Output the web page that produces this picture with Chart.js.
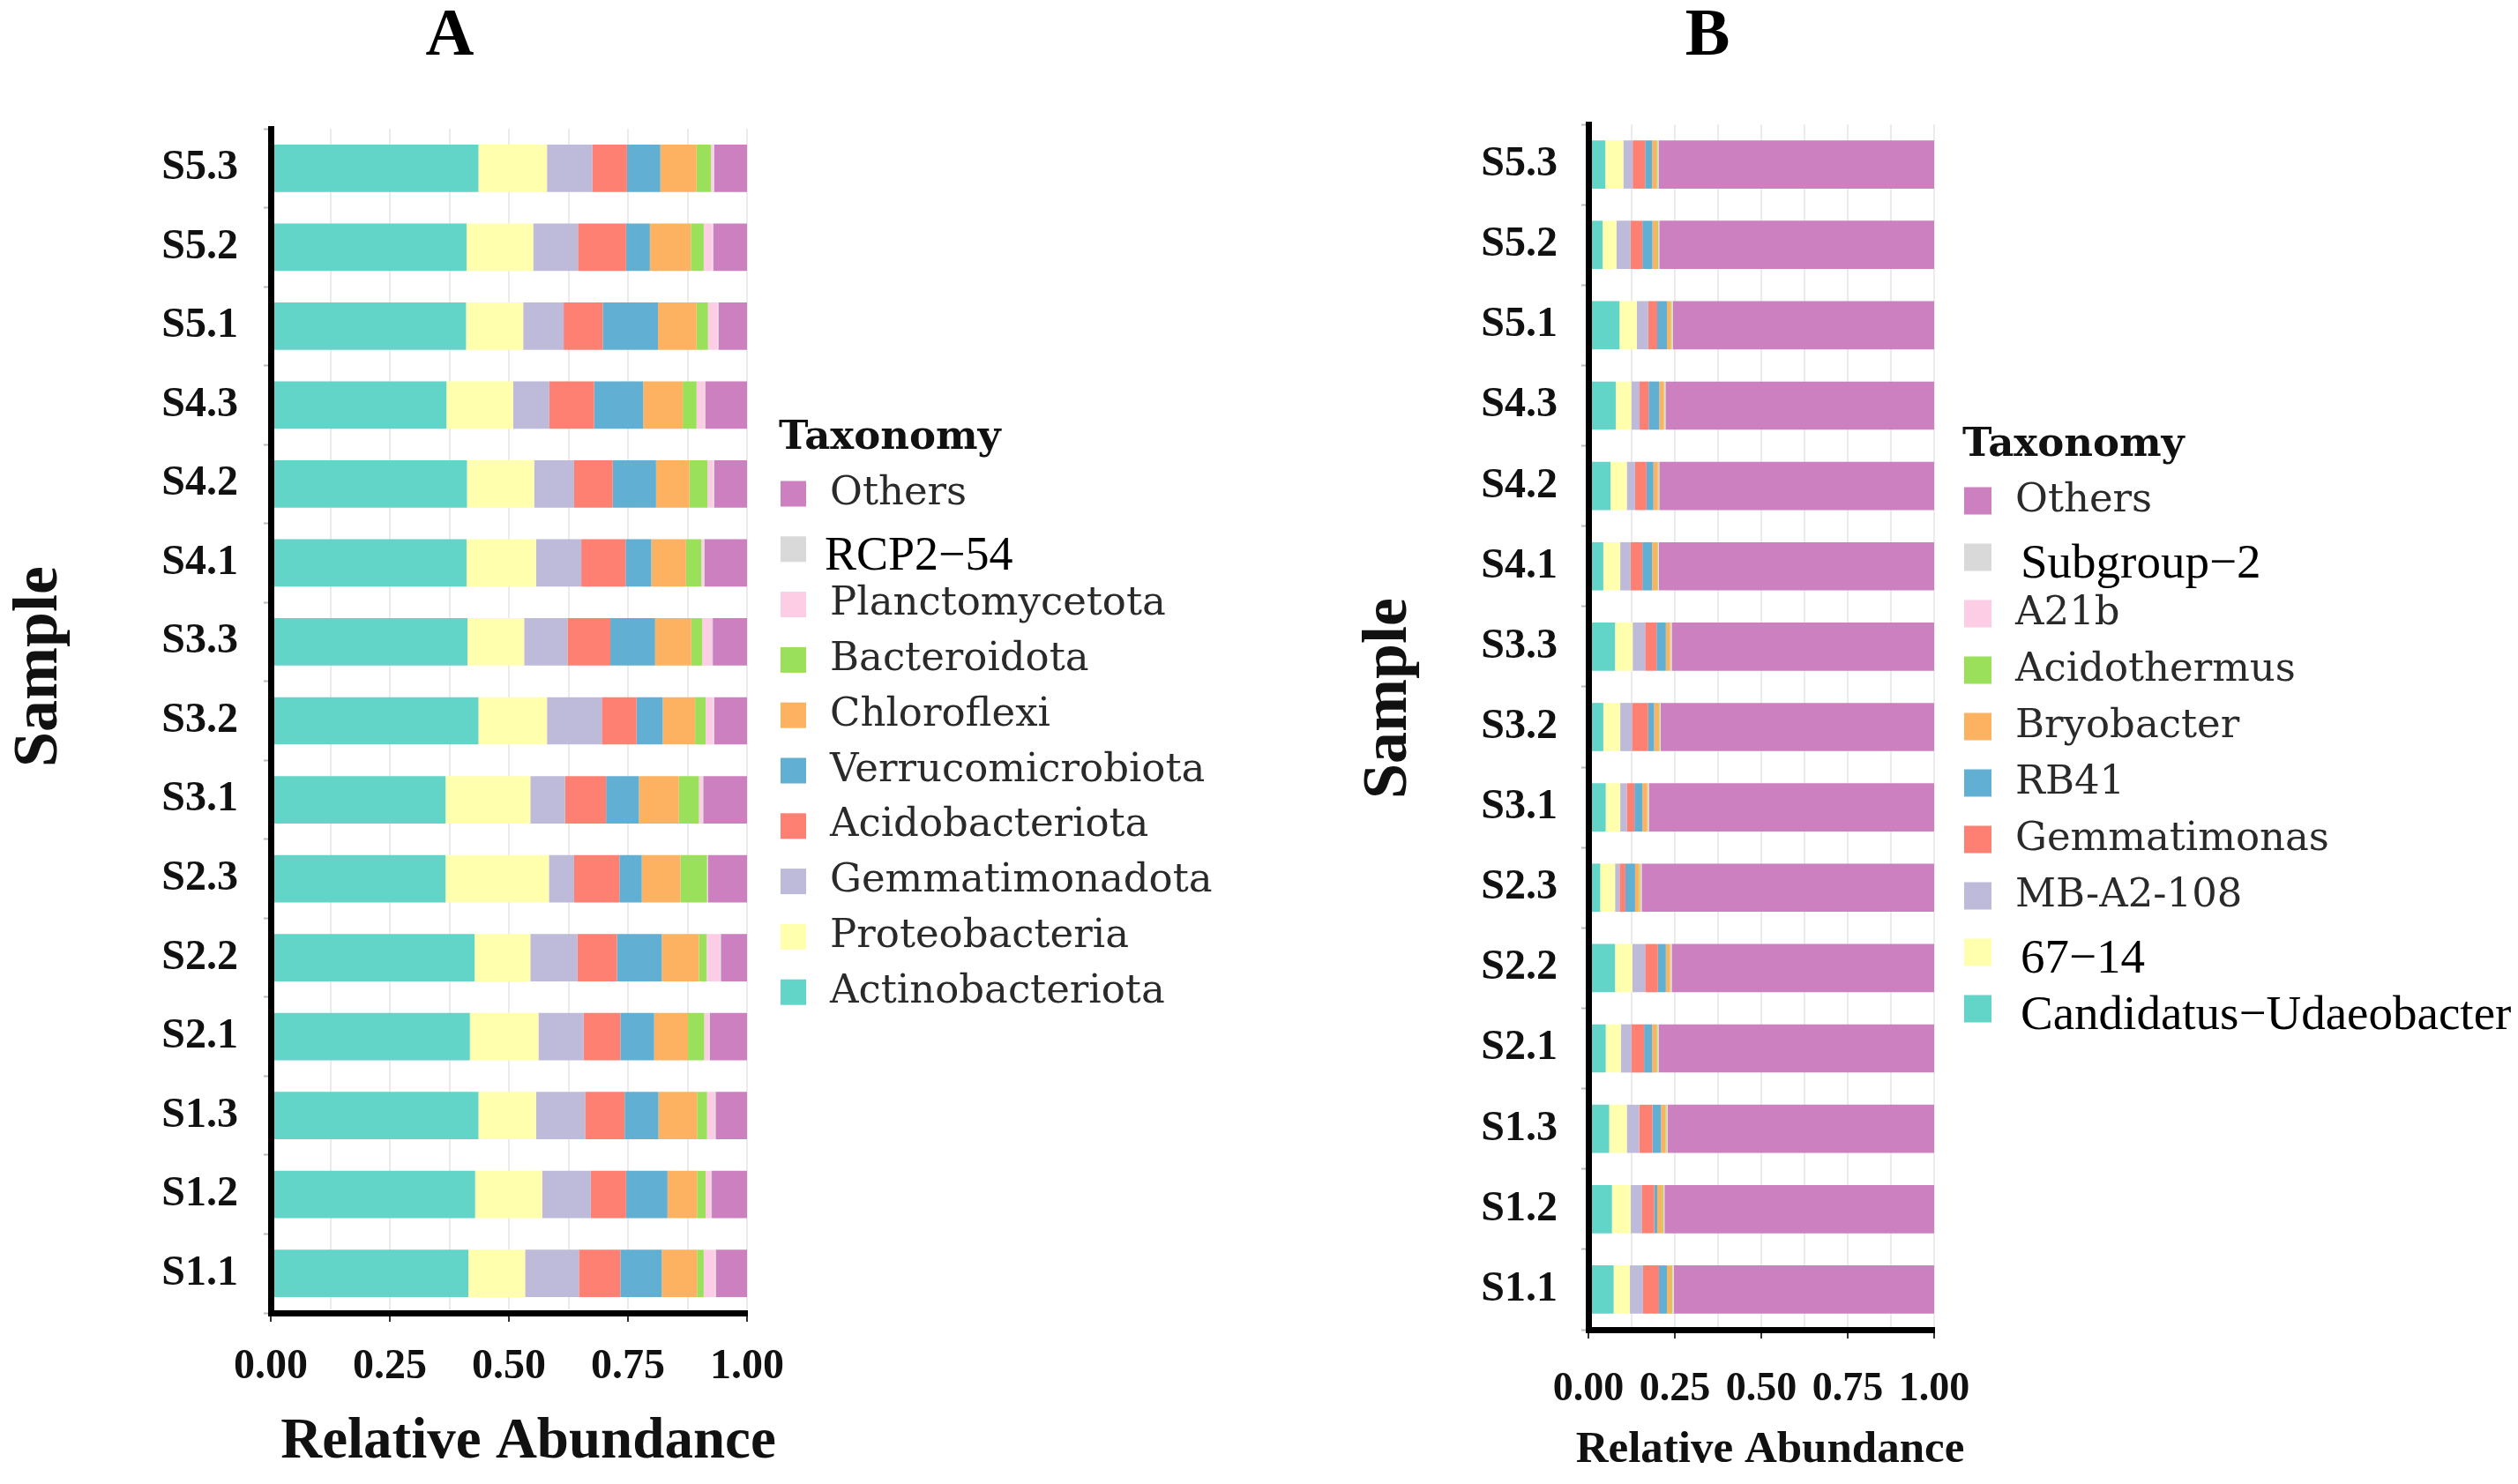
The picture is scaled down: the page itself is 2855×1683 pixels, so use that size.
<!DOCTYPE html>
<html><head><meta charset="utf-8">
<script src="https://cdn.jsdelivr.net/npm/chart.js@4.4.1/dist/chart.umd.min.js"></script>
<style>
html,body{margin:0;padding:0;background:#fff;width:2855px;height:1683px;overflow:hidden}
canvas{position:absolute;top:0}
#ca{left:0}
#cb{left:1420px}
</style></head><body>
<canvas id="ca" width="1420" height="1683"></canvas>
<canvas id="cb" width="1435" height="1683"></canvas>
<script>
// ---------- DATA ----------
const samples = ['S1.1','S1.2','S1.3','S2.1','S2.2','S2.3','S3.1','S3.2','S3.3','S4.1','S4.2','S4.3','S5.1','S5.2','S5.3'];
const xTickValues = [0, 0.25, 0.5, 0.75, 1];

// Panel A (phylum level), values in sample order above
const seriesA = ['Actinobacteriota','Proteobacteria','Gemmatimonadota','Acidobacteriota','Verrucomicrobiota','Chloroflexi','Bacteroidota','Planctomycetota','RCP2\u221254','Others'];
const actinobacteriota  = [.415,.429,.436,.418,.428,.367,.367,.436,.413,.411,.412,.369,.410,.411,.436];
const proteobacteria    = [.119,.141,.121,.144,.117,.217,.178,.144,.119,.146,.141,.140,.120,.140,.144];
const gemmatimonadota   = [.113,.102,.103,.095,.099,.053,.073,.115,.091,.095,.084,.076,.085,.094,.095];
const acidobacteriota   = [.087,.074,.083,.077,.083,.095,.086,.073,.090,.093,.081,.094,.082,.101,.073];
const verrucomicrobiota = [.087,.087,.071,.071,.094,.047,.069,.055,.094,.054,.091,.103,.116,.050,.070];
const chloroflexi       = [.074,.062,.081,.071,.078,.081,.084,.068,.076,.073,.070,.083,.081,.086,.076];
const bacteroidota      = [.014,.018,.021,.034,.016,.056,.042,.022,.023,.032,.038,.029,.024,.027,.030];
const planctomycetota   = [.024,.011,.016,.010,.028,.001,.007,.016,.020,.005,.012,.017,.020,.018,.005];
const rcp2_54           = [.002,.002,.002,.002,.002,.001,.002,.002,.002,.002,.002,.002,.002,.002,.002];
const othersA           = [.065,.074,.066,.078,.055,.082,.092,.069,.072,.089,.069,.087,.060,.071,.069];

// Panel B (genus level)
const seriesB = ['Candidatus\u2212Udaeobacter','67\u221214','MB-A2-108','Gemmatimonas','RB41','Bryobacter','Acidothermus','A21b','Subgroup\u22122','Others'];
const candidatusUdaeobacter = [.073,.068,.060,.050,.077,.034,.050,.043,.077,.043,.064,.079,.090,.041,.049];
const g67_14       = [.047,.054,.051,.044,.050,.043,.042,.049,.051,.049,.047,.045,.050,.040,.052];
const mbA2_108     = [.038,.032,.036,.030,.037,.013,.019,.034,.036,.030,.024,.024,.033,.041,.027];
const gemmatimonas = [.046,.036,.038,.037,.037,.017,.022,.047,.033,.034,.033,.026,.026,.034,.036];
const rb41         = [.023,.009,.025,.023,.023,.028,.023,.017,.027,.028,.020,.031,.028,.029,.020];
const bryobacter   = [.013,.015,.013,.013,.012,.012,.014,.014,.012,.015,.013,.013,.011,.014,.013];
const acidothermus = [.003,.003,.003,.003,.002,.003,.002,.002,.002,.002,.002,.002,.003,.003,.003];
const a21b         = [.003,.002,.002,.002,.002,.003,.002,.002,.002,.002,.001,.002,.002,.002,.002];
const subgroup2    = [.001,.001,.001,.001,.001,.001,.001,.001,.001,.001,.001,.001,.001,.001,.001];
const othersB      = [.753,.780,.771,.797,.759,.846,.825,.791,.759,.796,.795,.777,.756,.795,.797];

const valuesA = [actinobacteriota,proteobacteria,gemmatimonadota,acidobacteriota,verrucomicrobiota,chloroflexi,bacteroidota,planctomycetota,rcp2_54,othersA];
const valuesB = [candidatusUdaeobacter,g67_14,mbA2_108,gemmatimonas,rb41,bryobacter,acidothermus,a21b,subgroup2,othersB];

// ---------- STYLE ----------
const palette = ['#62D4C8','#FFFFAD','#BEBADA','#FD8072','#62AFD4','#FDB262','#9BE05A','#FCCDE5','#D9D9D9','#CD80BF'];
const SERIF = "'Liberation Serif', 'Times New Roman', serif";
const LEGSERIF = "'DejaVu Serif', serif";

const decoPlugin = {
  id: 'panelDeco',
  afterDraw(chart, args, o) {
    const ctx = chart.ctx;
    ctx.save();
    ctx.fillStyle = '#000';
    ctx.textAlign = 'center'; ctx.textBaseline = 'middle';
    // panel letter
    ctx.font = `bold ${o.titleSize}px ${SERIF}`;
    ctx.fillText(o.title, o.titleX, o.titleY);
    // x-axis title
    ctx.fillStyle = '#111';
    ctx.font = `bold ${o.xTitleSize}px ${SERIF}`;
    ctx.fillText('Relative Abundance', o.xTitleX, o.xTitleY);
    // y-axis title
    ctx.save();
    ctx.translate(o.sampleX, o.sampleY);
    ctx.rotate(-Math.PI/2);
    ctx.font = `bold ${o.sampleSize}px ${SERIF}`;
    ctx.fillText('Sample', 0, 0);
    ctx.restore();
    // legend
    const L = o.legend;
    ctx.textAlign = 'left';
    ctx.font = `bold 45px ${LEGSERIF}`;
    ctx.fillStyle = '#111';
    ctx.fillText('Taxonomy', L.x, L.titleY);
    const ds = chart.data.datasets.slice().reverse();
    ds.forEach((d, i) => {
      const yc = L.y0 + i * L.step;
      ctx.fillStyle = d.backgroundColor;
      ctx.fillRect(L.x + 2, yc - L.box/2, L.box, L.box);
      if (d.label.indexOf('\u2212') >= 0) {
        ctx.fillStyle = '#000';
        ctx.font = `${L.altSize}px ${SERIF}`;
        ctx.fillText(d.label, L.textX + L.altDx, yc + 9);
      } else {
        ctx.fillStyle = '#2a2a2a';
        ctx.font = `45px ${LEGSERIF}`;
        ctx.fillText(d.label, L.textX, yc);
      }
    });
    ctx.restore();
  }
};

function isMajor(v){ return xTickValues.some(t => Math.abs(t - v) < 1e-9); }

function makeChart(id, names, values, g) {
  const datasets = names.map((n, i) => ({
    label: n,
    data: values[i],
    backgroundColor: palette[i],
    borderWidth: 0,
    barPercentage: 0.6,
    categoryPercentage: 1.0
  }));
  return new Chart(document.getElementById(id), {
    type: 'bar',
    data: { labels: samples, datasets },
    plugins: [decoPlugin],
    options: {
      indexAxis: 'y',
      responsive: false,
      animation: false,
      devicePixelRatio: 1,
      layout: { padding: { left: 0, top: g.top, right: g.padRight, bottom: 0 } },
      plugins: {
        legend: { display: false },
        title: { display: false },
        tooltip: { enabled: false },
        panelDeco: g.deco
      },
      scales: {
        x: {
          type: 'linear', stacked: true, min: 0, max: 1,
          afterFit: s => { s.height = g.xHeight; },
          border: { display: true, color: '#000', width: 7, z: 1 },
          grid: {
            color: '#EBEBEB', lineWidth: 2, tickLength: 10, tickWidth: 2,
            tickColor: c => (c.tick && isMajor(c.tick.value)) ? '#333' : 'rgba(0,0,0,0)'
          },
          ticks: {
            stepSize: 0.125, autoSkip: false, maxRotation: 0, padding: g.xTickPad,
            color: '#111',
            font: { family: SERIF, size: g.xTickSize, weight: 'bold' },
            callback: v => isMajor(v) ? Number(v).toFixed(2) : ''
          },
          title: { display: false }
        },
        y: {
          type: 'category', stacked: true, reverse: true, offset: true,
          afterFit: s => { s.width = g.yWidth; },
          border: { display: true, color: '#000', width: 7, z: 1 },
          grid: { color: 'rgba(0,0,0,0)', tickColor: '#BBBBBB', tickLength: 8, tickWidth: 2 },
          ticks: {
            padding: g.yTickPad, color: '#111',
            font: { family: SERIF, size: 48, weight: 'bold' }
          }
        }
      }
    }
  });
}

makeChart('ca', seriesA, valuesA, {
  top: 146, padRight: 1420 - 847, xHeight: 1683 - 1489, yWidth: 307,
  xTickPad: 23, xTickSize: 48, yTickPad: 29,
  deco: {
    title: 'A', titleX: 510, titleY: 42, titleSize: 76,
    xTitleX: 599, xTitleY: 1636, xTitleSize: 65,
    sampleX: 45, sampleY: 756, sampleSize: 72,
    legend: { x: 883, titleY: 497, y0: 560, step: 62.8, box: 29, textX: 941, altDx: -6, altSize: 54 }
  }
});

makeChart('cb', seriesB, valuesB, {
  top: 141, padRight: 1435 - (2193 - 1420), xHeight: 1683 - 1508, yWidth: 381,
  xTickPad: 31, xTickSize: 46, yTickPad: 27,
  deco: {
    title: 'B', titleX: 516, titleY: 42, titleSize: 76,
    xTitleX: 587, xTitleY: 1645, xTitleSize: 51,
    sampleX: 155, sampleY: 792, sampleSize: 72,
    legend: { x: 805, titleY: 505, y0: 568, step: 64, box: 31, textX: 865, altDx: 6, altSize: 55 }
  }
});
</script>
</body></html>
